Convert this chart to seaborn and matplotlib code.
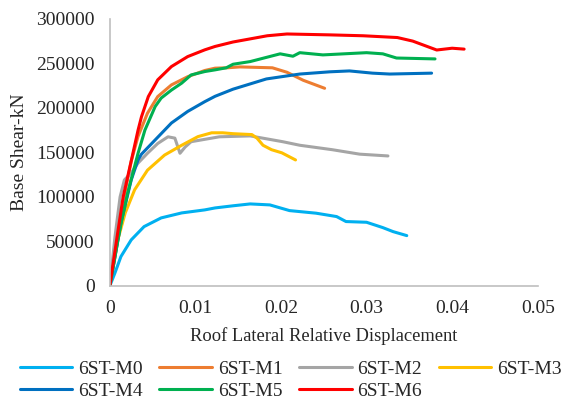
import pandas as pd
import matplotlib.pyplot as plt
import seaborn as sns

# Pushover curves: roof drift ratio vs base shear (kN)
m0_x = [0, 0.0006, 0.0013, 0.0025, 0.004, 0.006, 0.0084, 0.0111, 0.0123, 0.0144, 0.0164, 0.0187, 0.021, 0.0241, 0.0265, 0.0276, 0.030, 0.0319, 0.0331, 0.0347]
m0_y = [0, 14600, 33000, 51700, 66600, 76400, 82000, 85400, 87600, 90000, 92100, 91000, 84600, 81700, 77900, 72300, 71500, 65500, 61000, 56500]

m1_x = [0, 0.0012, 0.0025, 0.0033, 0.0044, 0.0056, 0.0072, 0.0091, 0.0111, 0.0123, 0.0137, 0.0152, 0.019, 0.0207, 0.0226, 0.0251]
m1_y = [0, 78000, 140000, 168000, 194000, 212700, 225800, 235000, 242000, 244600, 245000, 246000, 245000, 240000, 231000, 222000]

m2_x = [0, 0.0006, 0.0012, 0.0017, 0.0025, 0.0033, 0.0044, 0.0056, 0.0068, 0.0076, 0.0082, 0.0088, 0.0095, 0.0107, 0.0119, 0.0128, 0.0164, 0.0202, 0.0222, 0.026, 0.0292, 0.0325]
m2_y = [0, 55000, 100000, 119000, 127000, 138000, 149000, 160000, 167500, 166000, 149000, 156000, 162000, 164000, 166000, 167500, 168500, 162000, 158000, 153000, 148000, 146000]

m3_x = [0, 0.0009, 0.0018, 0.0029, 0.0044, 0.0064, 0.0084, 0.0103, 0.0119, 0.0132, 0.0144, 0.0166, 0.0172, 0.0179, 0.0189, 0.0201, 0.0217]
m3_y = [0, 50500, 82000, 108000, 130000, 147000, 158000, 167700, 172000, 172000, 171000, 170000, 166000, 158000, 153000, 149500, 141500]

m4_x = [0, 0.0013, 0.0025, 0.0033, 0.0037, 0.0053, 0.0072, 0.0091, 0.0111, 0.0123, 0.0144, 0.0183, 0.0222, 0.0257, 0.028, 0.0307, 0.0327, 0.0376]
m4_y = [0, 70800, 119000, 141600, 148000, 164000, 183000, 196000, 207000, 213000, 221000, 232500, 238000, 240500, 241500, 239000, 238000, 239000]

m5_x = [0, 0.0012, 0.0021, 0.0033, 0.0041, 0.0053, 0.006, 0.0072, 0.0084, 0.0095, 0.0111, 0.0123, 0.0136, 0.0144, 0.0164, 0.0199, 0.0214, 0.0222, 0.0249, 0.030, 0.0319, 0.0335, 0.038]
m5_y = [0, 65000, 105000, 149000, 175000, 201500, 211000, 220000, 227800, 237000, 240800, 242700, 245000, 249000, 252000, 260700, 258000, 262000, 259500, 262000, 260700, 256000, 255000]

m6_x = [0, 0.0008, 0.00156, 0.00253, 0.0033, 0.0037, 0.0045, 0.0056, 0.0072, 0.0091, 0.0111, 0.0123, 0.0144, 0.0184, 0.0207, 0.0257, 0.0296, 0.0336, 0.0354, 0.0382, 0.040, 0.0414]
m6_y = [0, 52000, 100000, 141600, 175000, 190000, 212700, 231500, 246400, 257600, 265200, 269000, 274000, 281000, 283000, 282000, 281000, 279000, 275000, 265000, 267000, 266000]

names = ["6ST-M0", "6ST-M1", "6ST-M2", "6ST-M3", "6ST-M4", "6ST-M5", "6ST-M6"]
xs = [m0_x, m1_x, m2_x, m3_x, m4_x, m5_x, m6_x]
ys = [m0_y, m1_y, m2_y, m3_y, m4_y, m5_y, m6_y]
colors = ["#00B0F0", "#ED7D31", "#A5A5A5", "#FFC000", "#0070C0", "#00B050", "#FF0000"]

frames = []
for name, x, y in zip(names, xs, ys):
    frames.append(pd.DataFrame({"drift": x, "shear": y, "model": name}))
df = pd.concat(frames, ignore_index=True)

sns.set_style("white")
plt.rcParams['font.family'] = ['Liberation Serif', 'DejaVu Serif']

fig = plt.figure(figsize=(5.69, 4.01), dpi=100)
ax = fig.add_axes([0.193, 0.287, 0.752, 0.666])

sns.lineplot(data=df, x="drift", y="shear", hue="model", palette=colors,
             sort=False, estimator=None, linewidth=2.2, ax=ax)

ax.set_xlim(0, 0.05)
ax.set_ylim(0, 300000)
ax.set_xticks([0, 0.01, 0.02, 0.03, 0.04, 0.05])
ax.set_xticklabels(["0", "0.01", "0.02", "0.03", "0.04", "0.05"])
ax.set_yticks(range(0, 300001, 50000))
ax.tick_params(labelsize=14, length=0)
ax.tick_params(axis="x", pad=10)
ax.tick_params(axis="y", pad=11)
ax.set_xlabel("Roof Lateral Relative Displacement", fontsize=13.3)
ax.xaxis.set_label_coords(0.5, -0.155)
ax.set_ylabel("Base Shear-kN", fontsize=14, labelpad=6)

for side in ["top", "right"]:
    ax.spines[side].set_visible(False)
for side in ["left", "bottom"]:
    ax.spines[side].set_color("#BFBFBF")
    ax.spines[side].set_linewidth(1.2)

# legend filled row by row (matplotlib fills by column)
handles, labels = ax.get_legend_handles_labels()
order = [0, 4, 1, 5, 2, 6, 3]
ax.get_legend().remove()
fig.legend([handles[i] for i in order], [labels[i] for i in order],
           loc="upper center", bbox_to_anchor=(0.511, 0.12), ncol=4, frameon=False,
           fontsize=14, handlelength=2.7, columnspacing=0.85, handletextpad=0.3,
           labelspacing=0.2, borderaxespad=0)

fig.savefig("out.png", dpi=100)
